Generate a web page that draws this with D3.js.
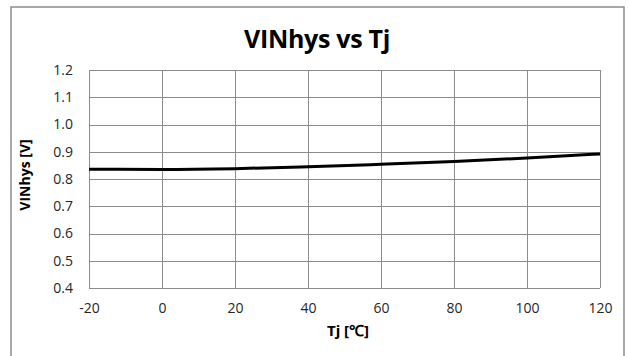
<!DOCTYPE html>
<html>
<head>
<meta charset="utf-8">
<script src="https://cdn.jsdelivr.net/npm/d3@7"></script>
<style>
  body { margin: 0; background: #fff; }
  svg { display: block; }
</style>
</head>
<body>
<svg width="628" height="356"></svg>
<script>
// data
let temps = [-20, 0, 20, 40, 60, 80, 100, 120];
let vinhys = [0.836, 0.835, 0.838, 0.845, 0.854, 0.864, 0.877, 0.892];
let xTicks = [-20, 0, 20, 40, 60, 80, 100, 120];
let yTicks = [0.4, 0.5, 0.6, 0.7, 0.8, 0.9, 1.0, 1.1, 1.2];

let svg = d3.select("svg"),
    width = +svg.attr("width"),
    height = +svg.attr("height");

let font = "'Open Sans', 'Liberation Sans', sans-serif";
let margin = {left: 89, right: 28, top: 70, bottom: 68};

// outer chart border (bottom runs off the picture)
svg.append("path")
    .attr("d", "M11," + (height + 2) + "V7H624V" + (height + 2))
    .attr("fill", "none")
    .attr("stroke", "#8c8c8c")
    .attr("stroke-width", 1.5);

let x = d3.scaleLinear()
    .domain([-20, 120])
    .range([margin.left, width - margin.right]);

let y = d3.scaleLinear()
    .domain([0.4, 1.2])
    .range([height - margin.bottom, margin.top]);

// grid
let grid = svg.append("g");
grid.selectAll(".hg")
    .data(yTicks)
    .enter()
    .append("line")
    .attr("x1", x(-20)).attr("x2", x(120))
    .attr("y1", d => Math.round(y(d)) + 0.5)
    .attr("y2", d => Math.round(y(d)) + 0.5)
    .attr("stroke", "#8c8c8c");

grid.selectAll(".vg")
    .data(xTicks)
    .enter()
    .append("line")
    .attr("y1", y(0.4)).attr("y2", y(1.2))
    .attr("x1", d => Math.round(x(d)) + 0.5)
    .attr("x2", d => Math.round(x(d)) + 0.5)
    .attr("stroke", "#8c8c8c");

// axes (labels only)
let xAxis = svg.append("g")
    .attr("transform", "translate(0," + y(0.4) + ")")
    .call(d3.axisBottom(x).tickValues(xTicks).tickSize(0).tickPadding(15)
        .tickFormat(d => String(d)));

let yAxis = svg.append("g")
    .attr("transform", "translate(" + x(-20) + ",0)")
    .call(d3.axisLeft(y).tickValues(yTicks).tickSize(0).tickPadding(16)
        .tickFormat(d3.format(".1f")));

[xAxis, yAxis].forEach(a => {
    a.select(".domain").remove();
    a.selectAll("text")
        .style("font-family", font)
        .style("font-size", "14px")
        .attr("fill", "#262626");
});

// line
svg.append("path")
    .datum(temps.map((t, i) => [t, vinhys[i]]))
    .attr("fill", "none")
    .attr("stroke", "#000")
    .attr("stroke-width", 3)
    .attr("d", d3.line()
        .x(d => x(d[0]))
        .y(d => y(d[1]))
        .curve(d3.curveMonotoneX));

// title
svg.append("text")
    .attr("x", 317)
    .attr("y", 48)
    .attr("text-anchor", "middle")
    .style("font-family", font)
    .style("font-weight", "bold")
    .style("font-size", "25px")
    .style("letter-spacing", "-0.3px")
    .attr("fill", "#000")
    .text("VINhys vs Tj");

// axis titles
svg.append("text")
    .attr("x", 348)
    .attr("y", 336)
    .attr("text-anchor", "middle")
    .style("font-family", font)
    .style("font-weight", "bold")
    .style("font-size", "15px")
    .text("Tj [℃]");

svg.append("text")
    .attr("transform", "translate(30,175) rotate(-90)")
    .attr("text-anchor", "middle")
    .style("font-family", font)
    .style("font-weight", "bold")
    .style("font-size", "14px")
    .text("VINhys [V]");
</script>
</body>
</html>
